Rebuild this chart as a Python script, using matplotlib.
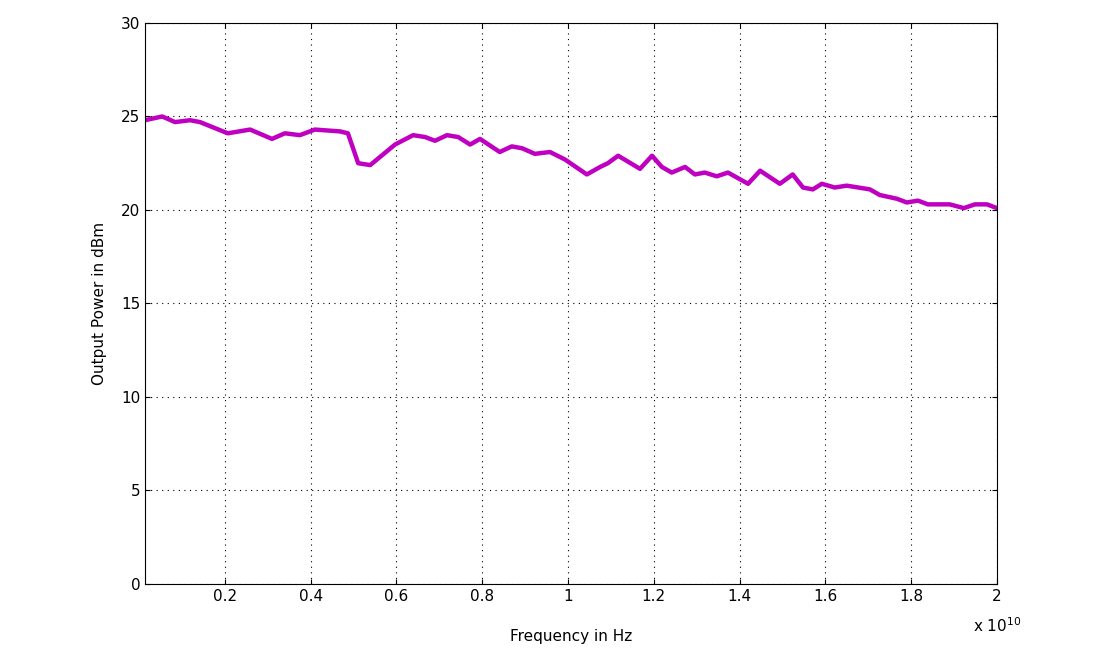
import matplotlib
matplotlib.use("Agg")
import matplotlib.pyplot as plt
import numpy as np

freq_ghz = [0.14,0.54,0.84,1.19,1.42,2.07,2.59,3.10,3.40,3.75,4.10,4.69,4.87,5.11,5.39,5.97,6.39,6.67,6.90,7.18,7.44,7.72,7.95,8.41,8.69,8.93,9.23,9.58,9.93,10.44,10.75,10.93,11.17,11.68,11.96,12.19,12.42,12.73,12.96,13.19,13.47,13.73,14.20,14.48,14.94,15.24,15.48,15.71,15.92,16.22,16.50,17.04,17.27,17.67,17.90,18.16,18.39,18.67,18.90,19.23,19.49,19.77,20.0]
power_dbm = [24.8,25.0,24.7,24.8,24.7,24.1,24.3,23.8,24.1,24.0,24.3,24.2,24.1,22.5,22.4,23.5,24.0,23.9,23.7,24.0,23.9,23.5,23.8,23.1,23.4,23.3,23.0,23.1,22.7,21.9,22.3,22.5,22.9,22.2,22.9,22.3,22.0,22.3,21.9,22.0,21.8,22.0,21.4,22.1,21.4,21.9,21.2,21.1,21.4,21.2,21.3,21.1,20.8,20.6,20.4,20.5,20.3,20.3,20.3,20.1,20.3,20.3,20.1]
x_ticks = [0.2,0.4,0.6,0.8,1,1.2,1.4,1.6,1.8,2]
y_ticks = [0,5,10,15,20,25,30]

fig = plt.figure(figsize=(11.02,6.58), dpi=100)
ax = fig.add_axes([0.1316,0.1125,0.773,0.8526])
x = np.array(freq_ghz)*1e9
ax.plot(x, power_dbm, color="#C000C0", lw=3.2)
ax.set_xlim(1.4e8, 2e10)
ax.set_ylim(0, 30)
ax.set_xticks([t*1e10 for t in x_ticks])
ax.set_xticklabels([f"{t:g}" for t in x_ticks])
ax.set_yticks(y_ticks)
ax.grid(True, color="black", linestyle=(0,(1,4)), linewidth=0.8)
ax.tick_params(direction="in", labelsize=11, top=True, right=True)
for s in ax.spines.values():
    s.set_linewidth(0.8)
ax.set_xlabel("Frequency in Hz", fontsize=11, labelpad=18)
ax.set_ylabel("Output Power in dBm", fontsize=11, labelpad=10)
ax.text(1.0, -0.075, r"x 10$^{10}$", transform=ax.transAxes, ha="center", va="center", fontsize=11)
fig.savefig("out.png", dpi=100)
